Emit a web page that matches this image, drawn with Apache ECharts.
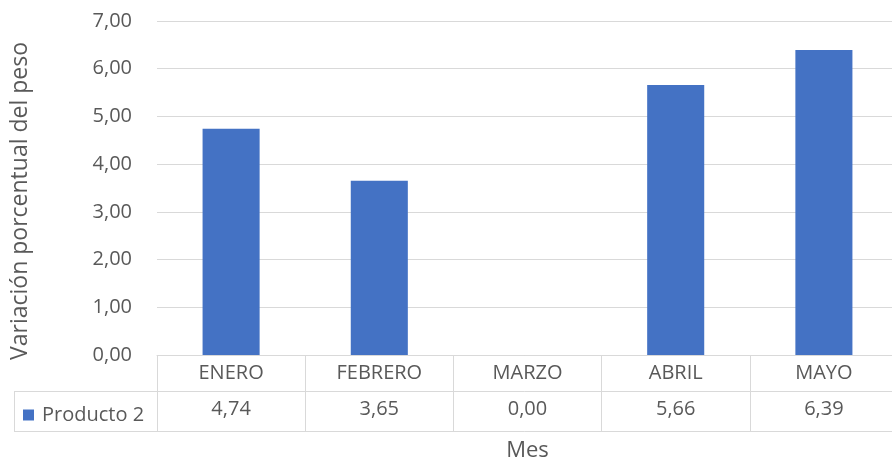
<!DOCTYPE html>
<html>
<head>
<meta charset="utf-8">
<script src="https://cdn.jsdelivr.net/npm/echarts@6/dist/echarts.min.js"></script>
<style>
  html, body { margin: 0; padding: 0; background: #fff; }
  #chart { width: 892px; height: 464px; }
</style>
</head>
<body>
<div id="chart"></div>
<script>
// Monthly weight variation for one product
const months = ['ENERO', 'FEBRERO', 'MARZO', 'ABRIL', 'MAYO'];
const producto2 = [4.74, 3.65, 0.00, 5.66, 6.39];
const seriesName = 'Producto 2';
const yTicks = { min: 0, max: 7, interval: 1 };

const FONT = '"Open Sans", "Noto Sans", sans-serif';
const TEXT = '#595959';
const LINE = '#d9d9d9';
const BAR = '#4472C4';

const fmt = v => Number(v).toFixed(2).replace('.', ',');

const chart = echarts.init(document.getElementById('chart'));

chart.setOption({
  animation: false,
  textStyle: { fontFamily: FONT },
  grid: { left: 157, right: -6, top: 21, bottom: 109, outerBoundsMode: 'none' },
  legend: {
    data: [seriesName],
    left: 18,
    top: 400,
    icon: 'rect',
    itemWidth: 11,
    itemHeight: 11,
    itemGap: 4,
    textStyle: { color: TEXT, fontSize: 20, fontFamily: FONT, padding: [0, 0, 0, 3] }
  },
  xAxis: [
    {
      // month header row of the data table
      type: 'category',
      data: months,
      position: 'bottom',
      axisLine: { show: true, lineStyle: { color: LINE, width: 1 } },
      axisTick: { show: true, length: 76, lineStyle: { color: LINE, width: 1 } },
      axisLabel: { color: TEXT, fontSize: 20, margin: 8 }
    },
    {
      // value row of the data table
      type: 'category',
      data: months,
      position: 'bottom',
      offset: 36,
      axisLine: { show: true, lineStyle: { color: LINE, width: 1 } },
      axisTick: { show: false },
      axisLabel: {
        color: TEXT, fontSize: 20, margin: 8,
        formatter: (v, i) => fmt(producto2[i])
      }
    },
    {
      // bottom border of the table, carries the axis title
      type: 'category',
      data: months,
      position: 'bottom',
      offset: 76,
      axisLine: { show: true, lineStyle: { color: LINE, width: 1 } },
      axisTick: { show: false },
      axisLabel: { show: false },
      name: 'Mes',
      nameLocation: 'middle',
      nameGap: 9,
      nameTextStyle: { color: TEXT, fontSize: 22, fontFamily: FONT, verticalAlign: 'top' }
    }
  ],
  yAxis: {
    type: 'value',
    min: yTicks.min,
    max: yTicks.max,
    interval: yTicks.interval,
    axisLine: { show: false },
    axisTick: { show: false },
    axisLabel: { color: TEXT, fontSize: 20, margin: 25, formatter: v => fmt(v) },
    splitLine: { lineStyle: { color: LINE, width: 1 } },
    name: 'Variación porcentual del peso',
    nameLocation: 'middle',
    nameGap: 125,
    nameTextStyle: { color: TEXT, fontSize: 23, fontFamily: FONT, padding: [0, 26, 0, 0] }
  },
  series: [
    {
      name: seriesName,
      type: 'bar',
      data: producto2,
      barWidth: '38.5%',
      itemStyle: { color: BAR }
    }
  ],
  graphic: [
    // legend cell borders to the left of the table
    { type: 'line', shape: { x1: 14, y1: 391.5, x2: 157, y2: 391.5 }, style: { stroke: LINE, lineWidth: 1 }, silent: true },
    { type: 'line', shape: { x1: 14, y1: 431.5, x2: 157, y2: 431.5 }, style: { stroke: LINE, lineWidth: 1 }, silent: true },
    { type: 'line', shape: { x1: 14.5, y1: 391, x2: 14.5, y2: 432 }, style: { stroke: LINE, lineWidth: 1 }, silent: true }
  ]
});
</script>
</body>
</html>
